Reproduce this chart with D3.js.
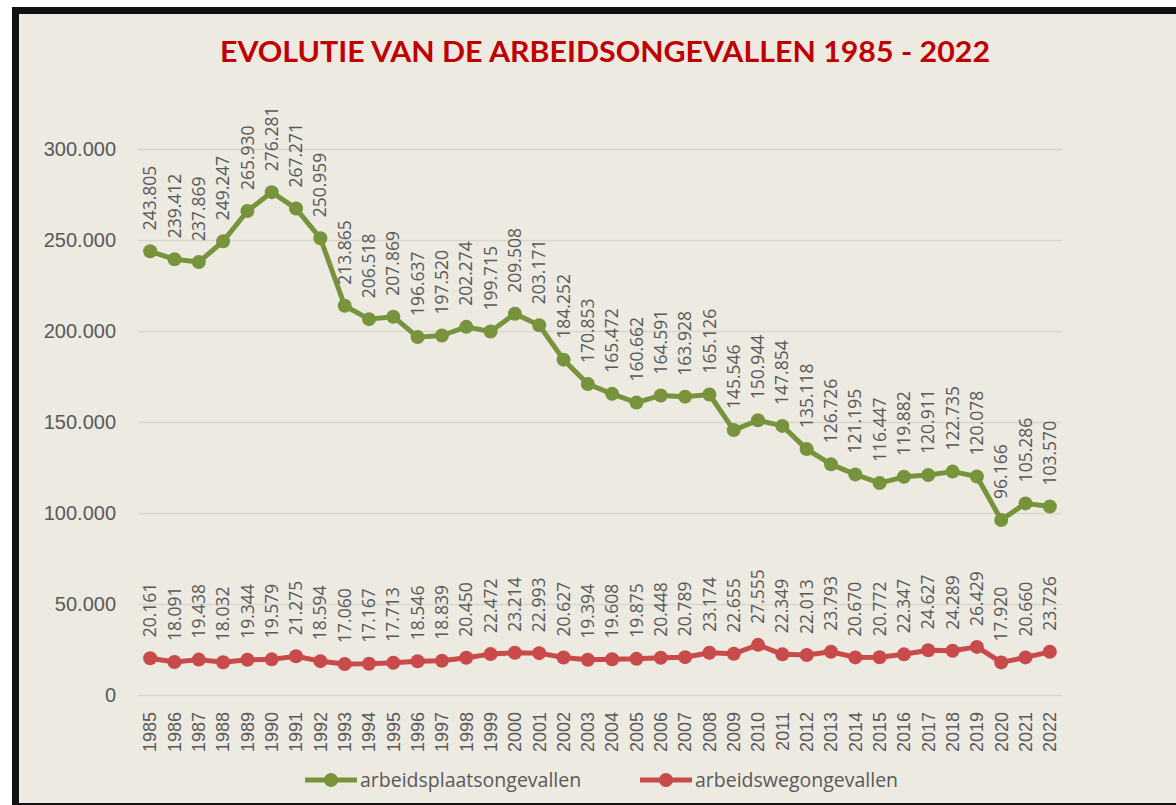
<!DOCTYPE html>
<html>
<head>
<meta charset="utf-8">
<script src="https://cdn.jsdelivr.net/npm/d3@7"></script>
<style>
  html, body { margin: 0; padding: 0; background: #fff; }
  svg { display: block; font-family: "Open Sans", "Noto Sans", sans-serif; }
</style>
</head>
<body>
<svg id="chart" width="1176" height="805"></svg>
<script>
// years on the x axis
var years = [1985, 1986, 1987, 1988, 1989, 1990, 1991, 1992, 1993, 1994,
  1995, 1996, 1997, 1998, 1999, 2000, 2001, 2002, 2003, 2004,
  2005, 2006, 2007, 2008, 2009, 2010, 2011, 2012, 2013, 2014,
  2015, 2016, 2017, 2018, 2019, 2020, 2021, 2022];

// arbeidsplaatsongevallen
var workplace = [243805, 239412, 237869, 249247, 265930, 276281, 267271, 250959, 213865, 206518,
  207869, 196637, 197520, 202274, 199715, 209508, 203171, 184252, 170853, 165472,
  160662, 164591, 163928, 165126, 145546, 150944, 147854, 135118, 126726, 121195,
  116447, 119882, 120911, 122735, 120078, 96166, 105286, 103570];

// arbeidswegongevallen
var commute = [20161, 18091, 19438, 18032, 19344, 19579, 21275, 18594, 17060, 17167,
  17713, 18546, 18839, 20450, 22472, 23214, 22993, 20627, 19394, 19608,
  19875, 20448, 20789, 23174, 22655, 27555, 22349, 22013, 23793, 20670,
  20772, 22347, 24627, 24289, 26429, 17920, 20660, 23726];

var yTicks = [0, 50000, 100000, 150000, 200000, 250000, 300000];

var series = [
  { name: 'arbeidsplaatsongevallen', values: workplace, color: '#77933c' },
  { name: 'arbeidswegongevallen', values: commute, color: '#c94a4b' }
];

var svg = d3.select('#chart');
var W = 1176, H = 805;

// page background and the black frame of the screenshot
svg.append('rect').attr('width', W).attr('height', H).attr('fill', '#ffffff');
svg.append('rect').attr('x', 12).attr('y', 7).attr('width', W - 12).attr('height', H - 7).attr('fill', '#111');
svg.append('rect').attr('x', 19).attr('y', 14).attr('width', W - 19).attr('height', H - 16).attr('fill', '#edeae2');

// dotted formatting like 243.805
var fmt = function (v) {
  return d3.format(',')(v).replace(/,/g, '.');
};

var plot = { left: 138, right: 1062, top: 149, bottom: 695 };

var x = d3.scaleBand()
  .domain(years)
  .range([plot.left, plot.right]);

var y = d3.scaleLinear()
  .domain([0, 300000])
  .range([plot.bottom, plot.top]);

var cx = function (d) { return x(d) + x.bandwidth() / 2; };

// title
svg.append('text')
  .attr('x', 605)
  .attr('y', 62)
  .attr('text-anchor', 'middle')
  .attr('fill', '#c00000')
  .attr('font-family', 'Lato, "Open Sans", sans-serif')
  .attr('font-weight', 'bold')
  .attr('font-size', 29)
  .attr('textLength', 770)
  .attr('lengthAdjust', 'spacingAndGlyphs')
  .text('EVOLUTIE VAN DE ARBEIDSONGEVALLEN 1985 - 2022');

// gridlines + y axis
var yAxis = d3.axisLeft(y)
  .tickValues(yTicks)
  .tickSize(-(plot.right - plot.left))
  .tickPadding(22)
  .tickFormat(fmt);

var yg = svg.append('g')
  .attr('transform', 'translate(' + plot.left + ',0)')
  .call(yAxis);
yg.select('.domain').remove();
yg.selectAll('.tick line').attr('stroke', '#d9d6cf').attr('stroke-width', 1.3);
yg.selectAll('.tick text')
  .attr('fill', '#595959')
  .attr('font-size', 20);

// x axis, rotated year labels
var xAxis = d3.axisBottom(x).tickSize(0).tickPadding(0);
var xg = svg.append('g')
  .attr('transform', 'translate(0,' + plot.bottom + ')')
  .call(xAxis);
xg.select('.domain').remove();
xg.selectAll('.tick text')
  .attr('fill', '#595959')
  .attr('font-size', 18)
  .attr('text-anchor', 'end')
  .attr('dy', '0.35em')
  .attr('transform', 'translate(0,17) rotate(-90)')
  .attr('x', 0)
  .attr('y', 0);

var line = d3.line()
  .x(function (d, i) { return cx(years[i]); })
  .y(function (d) { return y(d); });

series.forEach(function (s) {
  var g = svg.append('g').attr('class', 'series');

  g.append('path')
    .datum(s.values)
    .attr('fill', 'none')
    .attr('stroke', s.color)
    .attr('stroke-width', 5)
    .attr('stroke-linejoin', 'round')
    .attr('d', line);

  g.selectAll('circle')
    .data(s.values)
    .enter()
    .append('circle')
    .attr('cx', function (d, i) { return cx(years[i]); })
    .attr('cy', function (d) { return y(d); })
    .attr('r', 7)
    .attr('fill', s.color);

  // data labels rotated upright
  g.selectAll('text.lbl')
    .data(s.values)
    .enter()
    .append('text')
    .attr('class', 'lbl')
    .attr('transform', function (d, i) {
      return 'translate(' + cx(years[i]) + ',' + (y(d) - 21) + ') rotate(-90)';
    })
    .attr('dy', '0.35em')
    .attr('fill', '#595959')
    .attr('font-size', 17.5)
    .text(function (d) { return fmt(d); });
});

// legend
var legend = svg.append('g').attr('transform', 'translate(0,780)');
var legendX = [305, 640];
series.forEach(function (s, i) {
  var lg = legend.append('g').attr('transform', 'translate(' + legendX[i] + ',0)');
  lg.append('line')
    .attr('x1', 0).attr('x2', 52)
    .attr('stroke', s.color)
    .attr('stroke-width', 5);
  lg.append('circle')
    .attr('cx', 26).attr('r', 7)
    .attr('fill', s.color);
  lg.append('text')
    .attr('x', 55)
    .attr('dy', '0.35em')
    .attr('fill', '#595959')
    .attr('font-size', 19.5)
    .text(s.name);
});
</script>
</body>
</html>
